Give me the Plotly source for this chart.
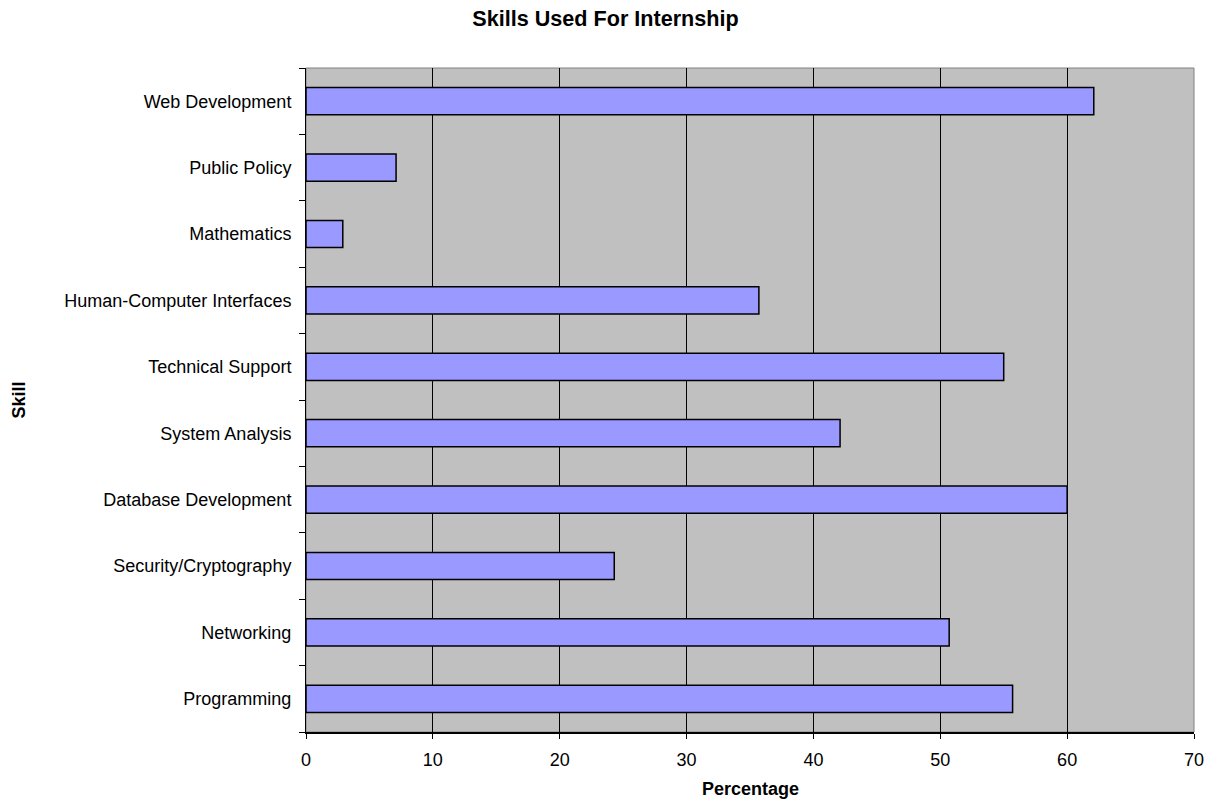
import plotly.graph_objects as go

skills = [
    "Programming",
    "Networking",
    "Security/Cryptography",
    "Database Development",
    "System Analysis",
    "Technical Support",
    "Human-Computer Interfaces",
    "Mathematics",
    "Public Policy",
    "Web Development",
]
percentages = [55.7, 50.7, 24.3, 60.0, 42.1, 55.0, 35.7, 2.9, 7.1, 62.1]
x_ticks = [0, 10, 20, 30, 40, 50, 60, 70]

font_family = "Liberation Sans, Arial, sans-serif"

W, H = 1211, 801
L, R, T, B = 306, 17, 68, 69
plot_w = W - L - R
plot_h = H - T - B

fig = go.Figure(
    go.Bar(
        x=percentages,
        y=skills,
        orientation="h",
        width=0.41,
        marker=dict(color="#9999FF", line=dict(color="#000000", width=1.5)),
    )
)

fig.update_layout(
    width=W,
    height=H,
    margin=dict(l=L, r=R, t=T, b=B, autoexpand=False),
    paper_bgcolor="#FFFFFF",
    plot_bgcolor="#C0C0C0",
    showlegend=False,
    font=dict(family=font_family, size=18, color="#000000"),
    title=dict(
        text="<b>Skills Used For Internship</b>",
        x=0.5,
        xanchor="center",
        xref="container",
        y=1 - 18 / H,
        yanchor="middle",
        font=dict(family=font_family, size=21.6, color="#000000"),
    ),
    xaxis=dict(
        range=[0, 70],
        tickvals=x_ticks,
        showgrid=True,
        gridcolor="#000000",
        gridwidth=1,
        zeroline=False,
        showline=True,
        linecolor="#000000",
        linewidth=1.5,
        ticks="outside",
        ticklen=5,
        tickcolor="#000000",
        tickfont=dict(size=18),
        ticklabelstandoff=6,
        automargin=False,
    ),
    yaxis=dict(
        type="category",
        categoryorder="array",
        categoryarray=skills,
        showgrid=False,
        zeroline=False,
        showline=True,
        linecolor="#000000",
        linewidth=1,
        ticks="outside",
        tickson="boundaries",
        ticklen=6,
        tickcolor="#000000",
        tickfont=dict(size=18),
        ticklabelstandoff=10,
        automargin=False,
    ),
    annotations=[
        dict(
            text="<b>Percentage</b>", xref="paper", yref="paper",
            x=0.5, y=-(789 - (H - B)) / plot_h,
            xanchor="center", yanchor="middle", showarrow=False,
            font=dict(size=18),
        ),
        dict(
            text="<b>Skill</b>", xref="paper", yref="paper",
            x=-(L - 18.5) / plot_w, y=0.5 + (T + plot_h / 2 - 400) / plot_h,
            xanchor="center", yanchor="middle", showarrow=False,
            textangle=-90, font=dict(size=18),
        ),
    ],
)

# grey frame on the top and right of the plot area
fig.add_shape(
    type="rect", xref="paper", yref="paper", x0=0, x1=1, y0=0, y1=1,
    line=dict(color="#808080", width=1), layer="below",
)

fig.write_html("out.html")
